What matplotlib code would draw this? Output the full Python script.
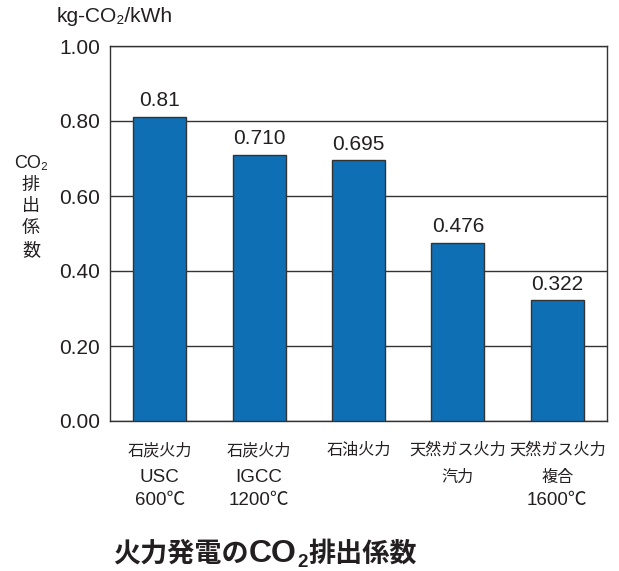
import matplotlib

matplotlib.use("Agg")
import matplotlib.pyplot as plt

# data
categories = [
    "石炭火力\nUSC\n600℃",
    "石炭火力\nIGCC\n1200℃",
    "石油火力",
    "天然ガス火力\n汽力",
    "天然ガス火力\n複合\n1600℃",
]
values = [0.81, 0.710, 0.695, 0.476, 0.322]
value_labels = ["0.81", "0.710", "0.695", "0.476", "0.322"]
yticks = [0.0, 0.2, 0.4, 0.6, 0.8, 1.0]

FONTS = ["Liberation Sans", "Noto Sans CJK JP", "DejaVu Sans"]
TEXT = "#231f20"
BAR = "#0f6fb5"
W, H = 619, 571

plt.rcParams["font.family"] = FONTS

fig = plt.figure(figsize=(W / 100, H / 100), dpi=100)
ax = fig.add_axes([110 / W, 150 / H, 497 / W, 375 / H])

x = range(len(categories))
ax.bar(x, values, width=0.535, color=BAR, edgecolor="#333333", linewidth=1.0, zorder=3)
for xi, v, lab in zip(x, values, value_labels):
    ax.text(xi, v + 0.018, lab, ha="center", va="bottom", fontsize=15, color=TEXT)

ax.set_xlim(-0.5, len(categories) - 0.5)
ax.set_ylim(0, 1.0)
ax.set_yticks(yticks)
ax.set_yticklabels([f"{t:.2f}" for t in yticks], fontsize=15, color=TEXT)
ax.set_xticks(list(x))
ax.set_xticklabels([])
ax.tick_params(axis="both", length=0)
ax.tick_params(axis="y", pad=7)
ax.grid(axis="y", color="#333333", linewidth=1.0, zorder=0)
for spine in ax.spines.values():
    spine.set_color("#333333")
    spine.set_linewidth(1.0)

# category labels, line by line (latin lines are set a bit larger)
line_offsets = [-21, -40.5, -57]  # points below the axis
for xi, cat in zip(x, categories):
    for k, line in enumerate(cat.split("\n")):
        is_latin = line.isascii() or line.endswith("℃")
        ax.annotate(line, xy=(xi, 0), xycoords=("data", "axes fraction"),
                    xytext=(0, line_offsets[k]), textcoords="offset points",
                    ha="center", va="center", color=TEXT,
                    fontsize=13.5 if is_latin else 11.6)

fig.text(57 / W, 1 - 17 / H, "kg-CO₂/kWh", ha="left", va="center", fontsize=15, color=TEXT)
fig.text(31 / W, 1 - 207 / H, "CO₂\n排\n出\n係\n数", ha="center", va="center",
         fontsize=13, color=TEXT, linespacing=1.38)

# title in pieces so that CO and the subscript 2 get their own size
renderer = fig.canvas.get_renderer()
pieces = [
    ("火力発電の", 19.5, 0),
    ("CO", 23, 0),
    ("2", 13.5, -5),
    ("排出係数", 19.5, 0),
]
cx = 113
base = 562
for s, size, drop in pieces:
    t = fig.text(cx / W, 1 - (base - drop) / H, s, ha="left", va="baseline",
                 fontsize=size, fontweight="bold", color=TEXT)
    cx = t.get_window_extent(renderer).x1 + 0.5

fig.savefig("out.png", dpi=100, facecolor="white")
